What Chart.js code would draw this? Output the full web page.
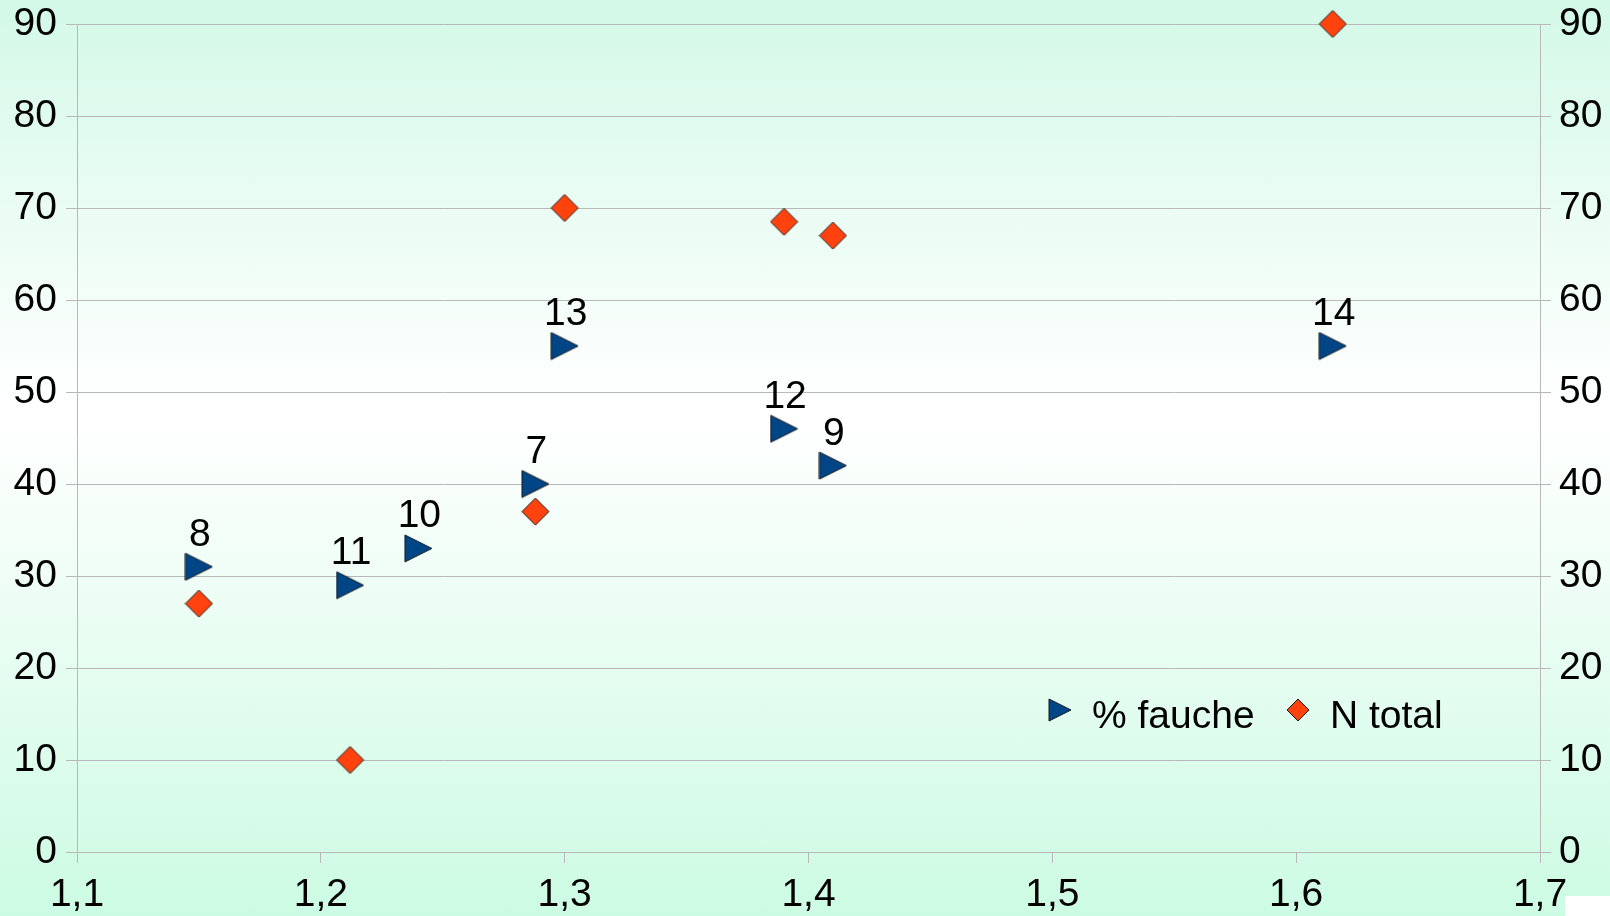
<!DOCTYPE html>
<html>
<head>
<meta charset="utf-8">
<script src="https://cdn.jsdelivr.net/npm/chart.js@4/dist/chart.umd.min.js"></script>
<style>
  html, body { margin: 0; padding: 0; }
  body {
    width: 1610px;
    height: 916px;
    overflow: hidden;
    background: linear-gradient(to bottom, #d3f9e8 0%, #ffffff 44%, #ffffff 46%, #ccfbe3 100%);
  }
  #wrap { position: relative; width: 1610px; height: 916px; }
  #corner { position: absolute; left: 1565px; top: 896px; width: 45px; height: 20px; background: #fff; }
</style>
</head>
<body>
<div id="wrap">
  <canvas id="chart" width="1610" height="916"></canvas>
  <div id="corner"></div>
</div>
<script>
// ratio values (x axis)
const ratioFauche = [1.15, 1.212, 1.24, 1.288, 1.30, 1.39, 1.41, 1.615];
const pctFauche = [31, 29, 33, 40, 55, 46, 42, 55];
const pointLabels = ['8', '11', '10', '7', '13', '12', '9', '14'];

const ratioTotal = [1.15, 1.212, 1.288, 1.30, 1.39, 1.41, 1.615];
const nTotal = [27, 10, 37, 70, 68.5, 67, 90];

const xTicks = [1.1, 1.2, 1.3, 1.4, 1.5, 1.6, 1.7];
const yTicks = [0, 10, 20, 30, 40, 50, 60, 70, 80, 90];

const seriesNames = ['% fauche', 'N total'];

const blue = '#004586';
const orange = '#ff420e';
const gridColor = '#b8b8b8';
const FONT = '"Liberation Sans", Arial, sans-serif';

function makeMarker(kind, size) {
  const c = document.createElement('canvas');
  c.width = size + 2;
  c.height = size + 2;
  const g = c.getContext('2d');
  const s = size, o = 1;
  g.beginPath();
  if (kind === 'triangle') {
    g.moveTo(o, o);
    g.lineTo(o + s, o + s / 2);
    g.lineTo(o, o + s);
  } else {
    g.moveTo(o + s / 2, o);
    g.lineTo(o + s, o + s / 2);
    g.lineTo(o + s / 2, o + s);
    g.lineTo(o, o + s / 2);
  }
  g.closePath();
  g.fillStyle = kind === 'triangle' ? blue : orange;
  g.fill();
  g.lineWidth = 1;
  g.strokeStyle = '#1a1a1a';
  g.stroke();
  return c;
}

const triMarker = makeMarker('triangle', 27);
const diaMarker = makeMarker('diamond', 27);
const triLegend = makeMarker('triangle', 22);
const diaLegend = makeMarker('diamond', 22);

const fmt = (v) => v.toFixed(1).replace('.', ',');

// number labels above the triangles + legend inside the plot
const labelsPlugin = {
  id: 'labelsPlugin',
  afterDatasetsDraw(chart) {
    const ctx = chart.ctx;
    const meta = chart.getDatasetMeta(0);
    ctx.save();
    ctx.font = '39px ' + FONT;
    ctx.fillStyle = '#000';
    ctx.textAlign = 'center';
    ctx.textBaseline = 'alphabetic';
    meta.data.forEach((pt, i) => {
      ctx.fillText(pointLabels[i], pt.x + 1, pt.y - 21);
    });

    // legend
    const area = chart.chartArea;
    const ly = area.bottom - 142;
    const lx = area.right - 480;
    ctx.drawImage(triLegend, lx - 12, ly - 12);
    ctx.textAlign = 'left';
    ctx.fillText(seriesNames[0], lx + 32, ly + 18);
    ctx.drawImage(diaLegend, lx + 226, ly - 12);
    ctx.fillText(seriesNames[1], lx + 270, ly + 18);
    ctx.restore();
  }
};

const tickFont = { family: FONT, size: 39 };

const fitY = (w) => (scale) => {
  scale.width = w;
  scale.paddingTop = 0;
  scale.paddingBottom = 0;
};

new Chart(document.getElementById('chart'), {
  type: 'scatter',
  data: {
    datasets: [
      {
        label: seriesNames[0],
        data: ratioFauche.map((x, i) => ({ x, y: pctFauche[i] })),
        pointStyle: triMarker,
        clip: false,
        yAxisID: 'y',
      },
      {
        label: seriesNames[1],
        data: ratioTotal.map((x, i) => ({ x, y: nTotal[i] })),
        pointStyle: diaMarker,
        clip: false,
        yAxisID: 'y',
      },
    ],
  },
  options: {
    responsive: false,
    animation: false,
    layout: {
      padding: { top: 24, right: 0, bottom: 0, left: 0 },
    },
    scales: {
      x: {
        type: 'linear',
        min: 1.1,
        max: 1.7,
        afterBuildTicks: (scale) => { scale.ticks = xTicks.map(v => ({ value: v })); },
        afterFit: (scale) => { scale.height = 64; },
        ticks: {
          callback: (v) => fmt(v),
          font: tickFont,
          color: '#000',
          padding: 9,
          maxRotation: 0,
          autoSkip: false,
        },
        grid: {
          drawOnChartArea: false,
          drawTicks: true,
          tickLength: 11,
          color: gridColor,
        },
        border: { color: gridColor },
      },
      y: {
        position: 'left',
        min: 0,
        max: 90,
        afterBuildTicks: (scale) => { scale.ticks = yTicks.map(v => ({ value: v })); },
        afterFit: fitY(77),
        ticks: {
          font: tickFont,
          color: '#000',
          padding: 9,
        },
        grid: {
          color: gridColor,
          tickLength: 11,
        },
        border: { color: gridColor },
      },
      y2: {
        position: 'right',
        min: 0,
        max: 90,
        afterBuildTicks: (scale) => { scale.ticks = yTicks.map(v => ({ value: v })); },
        afterFit: fitY(70),
        ticks: {
          font: tickFont,
          color: '#000',
          padding: 8,
        },
        grid: {
          drawOnChartArea: false,
          color: gridColor,
          tickLength: 11,
        },
        border: { color: gridColor },
      },
    },
    plugins: {
      legend: { display: false },
      tooltip: { enabled: false },
    },
  },
  plugins: [labelsPlugin],
});
</script>
</body>
</html>
